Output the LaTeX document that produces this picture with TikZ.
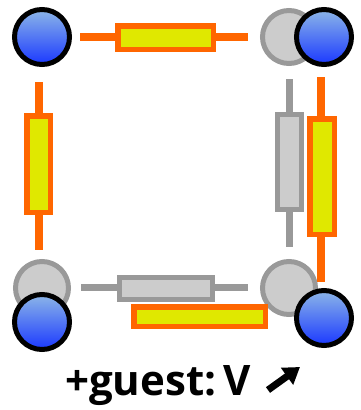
\documentclass[tikz,border=0pt]{standalone}
\usepackage{fontspec}
\setmainfont{Open Sans}
\usetikzlibrary{arrows.meta}
\definecolor{wireorange}{HTML}{FF6600}
\definecolor{resyellow}{HTML}{E0E800}
\definecolor{oldgray}{HTML}{999999}
\definecolor{oldfill}{HTML}{CCCCCC}
\definecolor{siteblue}{HTML}{8CB6E8}
\definecolor{deepblue}{HTML}{1A38FF}
\tikzset{
  site/.style={circle, draw=black, line width=5pt, minimum size=55pt, inner sep=0pt, top color=siteblue, bottom color=deepblue},
  oldsite/.style={circle, draw=oldgray, line width=5pt, minimum size=53pt, inner sep=0pt, fill=oldfill},
  olead/.style={draw=wireorange, line width=7.5pt},
  glead/.style={draw=oldgray, line width=7pt},
  ores/.style={rectangle, draw=wireorange, fill=resyellow, line width=5.5pt, inner sep=0pt},
  gres/.style={rectangle, draw=oldgray, fill=oldfill, line width=5pt, inner sep=0pt}
}
\begin{document}
\begin{tikzpicture}[x=1pt,y=-1pt]
\useasboundingbox (0,0) rectangle (360,410);
\node [oldsite] (gTR) at (289,37) {};
\node [oldsite] (gBL) at (42,288) {};
\node [oldsite] (gBR) at (289,288) {};
\coordinate (gr1) at (289,79);
\coordinate (gr2) at (289,247);
\draw [glead] (gr1) -- (gr2);
\node [gres, minimum width=24pt, minimum height=95pt] (gR) at (289.5,162) {};
\coordinate (gb1) at (81,287);
\coordinate (gb2) at (248,287);
\draw [glead] (gb1) -- (gb2);
\node [gres, minimum width=93pt, minimum height=22pt] (gB) at (166,288.5) {};
\coordinate (ot1) at (80,37);
\coordinate (ot2) at (248,37);
\draw [olead] (ot1) -- (ot2);
\node [ores, minimum width=95.5pt, minimum height=23.5pt] (oT) at (165.5,37.5) {};
\coordinate (ol1) at (39,82);
\coordinate (ol2) at (39,250);
\draw [olead] (ol1) -- (ol2);
\node [ores, minimum width=23.5pt, minimum height=96.5pt] (oL) at (38.5,164) {};
\coordinate (or1) at (321,77);
\coordinate (or2) at (321,282);
\draw [olead] (or1) -- (or2);
\node [ores, minimum width=24.5pt, minimum height=115.5pt] (oR) at (322,176.5) {};
\node [ores, minimum width=131.5pt, minimum height=19.5pt] (oB) at (199.5,316.5) {};
\node [site] (sTL) at (42,37) {};
\node [site] (sTR) at (324,37) {};
\node [site] (sBL) at (42,322) {};
\node [site] (sBR) at (324,318) {};
\node [anchor=base, font=\fontsize{42}{50}\selectfont\bfseries] (guest) at (158,395) {+guest:\,V};
\coordinate (m1) at (268,390);
\coordinate (m2) at (300,367);
\draw [line width=7pt, -{Triangle[length=16pt,width=20pt]}] (m1) -- (m2);
\end{tikzpicture}
\end{document}
